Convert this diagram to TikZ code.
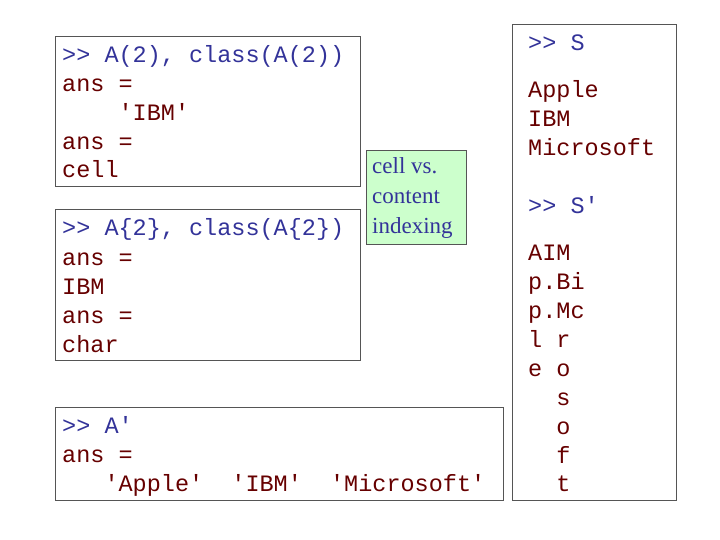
\documentclass[tikz,border=0pt]{standalone}
\usepackage{fontspec}
\setmonofont{Liberation Mono}
\setmainfont{Liberation Serif}
\definecolor{cmd}{HTML}{333399}
\definecolor{out}{HTML}{660000}
\definecolor{frm}{HTML}{555555}
\begin{document}
\begin{tikzpicture}[x=1pt,y=-1pt,
  box/.style={draw=frm,line width=1pt},
  t/.style={anchor=base west,inner sep=0pt,font=\fontsize{23.5}{29}\ttfamily},
  c/.style={t,text=cmd},
  o/.style={t,text=out}]
\useasboundingbox (0,0) rectangle (720,540);
\draw[box] (55,37) rectangle (360,187);
\draw[box] (55,210) rectangle (360,360);
\draw[box] (55,407) rectangle (503,500);
\draw[box] (512,25) rectangle (676,500);
\node[draw=frm,fill={rgb,255:red,204;green,255;blue,204},line width=0.8pt,minimum width=100pt,minimum height=94pt,anchor=north west,inner sep=0pt] (g) at (366,150) {};
\node[anchor=west,text=cmd,align=left,font=\fontsize{23}{30}\selectfont,inner sep=0pt] (gt) at (372,198) {cell vs.\\content\\indexing};
\node[c] (a1) at (62,63) {>> A(2), class(A(2))};
\node[o] (a2) at (62,92) {ans =};
\node[o] (a3) at (62,121) {\ \ \ \ 'IBM'};
\node[o] (a4) at (62,150) {ans =};
\node[o] (a5) at (62,178) {cell};
\node[c] (b1) at (62,236) {>> A\{2\}, class(A\{2\})};
\node[o] (b2) at (62,265) {ans =};
\node[o] (b3) at (62,294) {IBM};
\node[o] (b4) at (62,323) {ans =};
\node[o] (b5) at (62,352) {char};
\node[c] (c1) at (62,433) {>> A'};
\node[o] (c2) at (62,462) {ans =};
\node[o] (c3) at (62,491) {\ \ \ 'Apple'\ \ 'IBM'\ \ 'Microsoft'};
\node[c] (r1) at (528,51) {>> S};
\node[o] (r2) at (528,98) {Apple};
\node[o] (r3) at (528,127) {IBM};
\node[o] (r4) at (528,156) {Microsoft};
\node[c] (r5) at (528,214) {>> S'};
\node[o] (s1) at (528,260) {AIM};
\node[o] (s2) at (528,289) {p.Bi};
\node[o] (s3) at (528,318) {p.Mc};
\node[o] (s4) at (528,347) {l r};
\node[o] (s5) at (528,376) {e o};
\node[o] (s6) at (528,405) {\ \ s};
\node[o] (s7) at (528,434) {\ \ o};
\node[o] (s8) at (528,463) {\ \ f};
\node[o] (s9) at (528,491) {\ \ t};
\end{tikzpicture}
\end{document}
